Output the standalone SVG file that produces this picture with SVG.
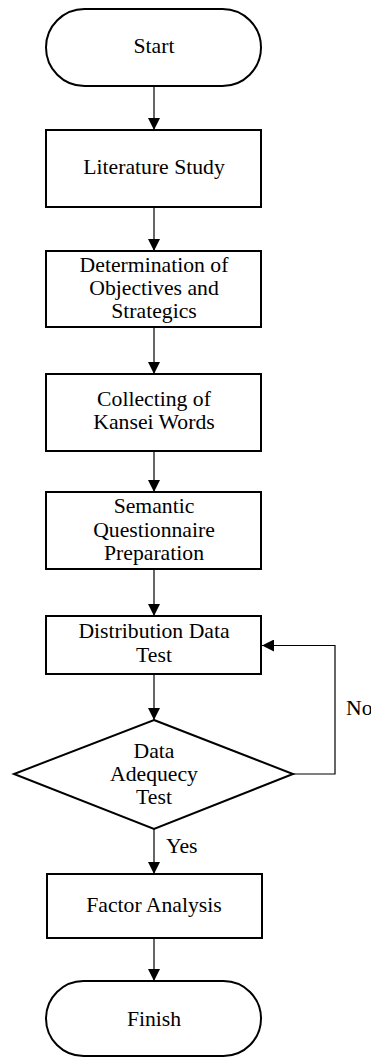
<svg xmlns="http://www.w3.org/2000/svg" width="371" height="1057" viewBox="0 0 371 1057">
<style>
.shape{fill:#fff;stroke:#000;stroke-width:2}
.conn{fill:none;stroke:#000;stroke-width:1.2}
text{font-family:'Liberation Serif','Times New Roman',serif;font-size:21.7px;fill:#000;text-anchor:middle}
.lbl{text-anchor:start}
</style>
<defs>
<marker id="ah" markerWidth="13" markerHeight="12" refX="12" refY="6" orient="auto" markerUnits="userSpaceOnUse">
<path d="M0,0 L12,6 L0,12 Z" fill="#000"/>
</marker>
</defs>
<rect width="371" height="1057" fill="#fff"/>
<g id="connectors">
<line class="conn" x1="154" y1="86" x2="154" y2="130" marker-end="url(#ah)"/>
<line class="conn" x1="154" y1="207" x2="154" y2="251" marker-end="url(#ah)"/>
<line class="conn" x1="154" y1="327" x2="154" y2="374" marker-end="url(#ah)"/>
<line class="conn" x1="154" y1="451" x2="154" y2="492" marker-end="url(#ah)"/>
<line class="conn" x1="154" y1="569" x2="154" y2="616" marker-end="url(#ah)"/>
<line class="conn" x1="154" y1="674" x2="154" y2="720" marker-end="url(#ah)"/>
<polyline class="conn" points="293,774 335,774 335,645.5 262,645.5" marker-end="url(#ah)"/>
<text class="lbl" x="346" y="715">No</text>
<line class="conn" x1="154" y1="829" x2="154" y2="874" marker-end="url(#ah)"/>
<text class="lbl" x="166" y="853">Yes</text>
<line class="conn" x1="154" y1="938" x2="154" y2="981" marker-end="url(#ah)"/>
</g>
<g id="start">
<rect class="shape" x="46" y="9" width="215" height="77" rx="38.5" ry="38.5"/>
<text x="154" y="52.5">Start</text>
</g>
<g id="literature">
<rect class="shape" x="46" y="130" width="215" height="77"/>
<text x="154" y="174">Literature Study</text>
</g>
<g id="determination">
<rect class="shape" x="46" y="251" width="215" height="76"/>
<text x="154" y="272">Determination of</text>
<text x="154" y="295">Objectives and</text>
<text x="154" y="318">Strategics</text>
</g>
<g id="collecting">
<rect class="shape" x="46" y="374" width="215" height="77"/>
<text x="154" y="406">Collecting of</text>
<text x="154" y="429">Kansei Words</text>
</g>
<g id="semantic">
<rect class="shape" x="46" y="492" width="215" height="77"/>
<text x="154" y="513">Semantic</text>
<text x="154" y="536.5">Questionnaire</text>
<text x="154" y="559.5">Preparation</text>
</g>
<g id="distribution">
<rect class="shape" x="46" y="616" width="215" height="58"/>
<text x="154" y="638">Distribution Data</text>
<text x="154" y="661.5">Test</text>
</g>
<g id="adequacy">
<polygon class="shape" points="154,720 293,774 154,829 14,774"/>
<text x="154" y="757.5">Data</text>
<text x="154" y="780.5">Adequecy</text>
<text x="154" y="803.5">Test</text>
</g>
<g id="factor">
<rect class="shape" x="47" y="874" width="215" height="64"/>
<text x="154" y="912">Factor Analysis</text>
</g>
<g id="finish">
<rect class="shape" x="46" y="981" width="215" height="75" rx="37.5" ry="37.5"/>
<text x="154" y="1026">Finish</text>
</g>
</svg>
